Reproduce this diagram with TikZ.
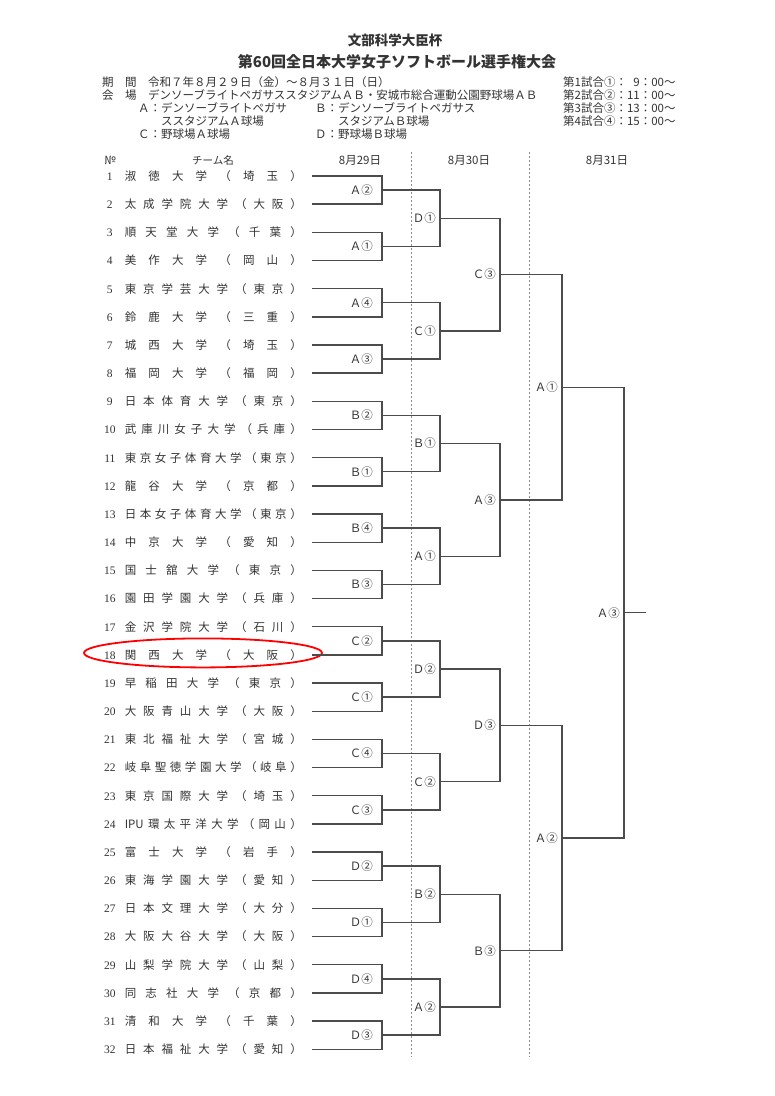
\documentclass[tikz,border=0pt]{standalone}
\usepackage{fontspec}
\setmainfont{Noto Sans CJK JP}
\newfontfamily\numfont{Liberation Serif}
\usetikzlibrary{shapes.geometric}
\definecolor{ink}{gray}{0.2}
\definecolor{rule}{gray}{0.3}

\newcommand{\teamrow}[2]{\makebox[20pt]{\numfont #1}\hspace{5pt}\makebox[177pt][s]{#2}}

\tikzset{
	info/.style={anchor=west, inner sep=0pt, font=\fontsize{11.5}{12}\selectfont},
	colhead/.style={inner sep=0pt, font=\fontsize{11.5}{12}\selectfont},
	team/.style={anchor=east, inner xsep=10pt, inner ysep=1pt, font=\fontsize{11.5}{12}\selectfont},
	game/.style={anchor=east, inner xsep=4pt, inner ysep=1pt, font=\fontsize{11.5}{12}\selectfont},
	first/.style={game, inner xsep=9pt},
	daysep/.style={draw=black!45, line width=0.6pt, dash pattern=on 2pt off 2pt},
	hilite/.style={draw=red, ellipse, line width=1.8pt, minimum width=238pt, minimum height=29pt, inner sep=0pt}
}

\begin{document}
\begin{tikzpicture}[x=1pt, y=-1pt, every node/.style={text=ink}]
		\useasboundingbox (0,0) rectangle (775,1096);
		\fill[white] (0,0) rectangle (775,1096);
		% heading
		\node[font=\bfseries\fontsize{13.5}{14}\selectfont] (cup) at (395,40) {文部科学大臣杯};
		\node[font=\bfseries\fontsize{15}{16}\selectfont] (title) at (397,62) {第60回全日本大学女子ソフトボール選手権大会};
		\node[info] (period) at (102,82) {期　間　令和７年８月２９日（金）～８月３１日（日）};
		\node[info] (venue) at (102,95) {会　場　デンソーブライトペガサススタジアムＡＢ・安城市総合運動公園野球場ＡＢ};
		\node[info] (fa) at (138,108) {Ａ：デンソーブライトペガサ};
		\node[info] (fa2) at (161,121) {ススタジアムＡ球場};
		\node[info] (fb) at (315,108) {Ｂ：デンソーブライトペガサス};
		\node[info] (fb2) at (338,121) {スタジアムＢ球場};
		\node[info] (fc) at (138,134) {Ｃ：野球場Ａ球場};
		\node[info] (fd) at (315,134) {Ｄ：野球場Ｂ球場};
		\node[info] (g1) at (563,82) {第1試合①：\phantom{1}9：00～};
		\node[info] (g2) at (563,95) {第2試合②：11：00～};
		\node[info] (g3) at (563,108) {第3試合③：13：00～};
		\node[info] (g4) at (563,121) {第4試合④：15：00～};
		% column heads
		\node[colhead] (no) at (110,160) {№};
		\node[colhead, font=\fontsize{10.5}{11}\selectfont] (name) at (213,160) {チーム名};
		\node[colhead] (d29) at (360,160) {8月29日};
		\node[colhead] (d30) at (469,160) {8月30日};
		\node[colhead] (d31) at (607,160) {8月31日};
		\draw[daysep] (411,152) -- (411,1057);
		\draw[daysep] (529,152) -- (529,1057);
		
		\begin{scope}[yshift=-147.83pt, y=-28.17pt]
			\node[team] (t1) at (312,1) {\teamrow{1}{淑 徳 大 学 （ 埼 玉 ）}};
			\node[team] (t2) at (312,2) {\teamrow{2}{太 成 学 院 大 学 （ 大 阪 ）}};
			\node[team] (t3) at (312,3) {\teamrow{3}{順 天 堂 大 学 （ 千 葉 ）}};
			\node[team] (t4) at (312,4) {\teamrow{4}{美 作 大 学 （ 岡 山 ）}};
			\node[team] (t5) at (312,5) {\teamrow{5}{東 京 学 芸 大 学 （ 東 京 ）}};
			\node[team] (t6) at (312,6) {\teamrow{6}{鈴 鹿 大 学 （ 三 重 ）}};
			\node[team] (t7) at (312,7) {\teamrow{7}{城 西 大 学 （ 埼 玉 ）}};
			\node[team] (t8) at (312,8) {\teamrow{8}{福 岡 大 学 （ 福 岡 ）}};
			\node[team] (t9) at (312,9) {\teamrow{9}{日 本 体 育 大 学 （ 東 京 ）}};
			\node[team] (t10) at (312,10) {\teamrow{10}{武 庫 川 女 子 大 学 （ 兵 庫 ）}};
			\node[team] (t11) at (312,11) {\teamrow{11}{東 京 女 子 体 育 大 学 （ 東 京 ）}};
			\node[team] (t12) at (312,12) {\teamrow{12}{龍 谷 大 学 （ 京 都 ）}};
			\node[team] (t13) at (312,13) {\teamrow{13}{日 本 女 子 体 育 大 学 （ 東 京 ）}};
			\node[team] (t14) at (312,14) {\teamrow{14}{中 京 大 学 （ 愛 知 ）}};
			\node[team] (t15) at (312,15) {\teamrow{15}{国 士 舘 大 学 （ 東 京 ）}};
			\node[team] (t16) at (312,16) {\teamrow{16}{園 田 学 園 大 学 （ 兵 庫 ）}};
			\node[team] (t17) at (312,17) {\teamrow{17}{金 沢 学 院 大 学 （ 石 川 ）}};
			\node[team] (t18) at (312,18) {\teamrow{18}{関 西 大 学 （ 大 阪 ）}};
			\node[team] (t19) at (312,19) {\teamrow{19}{早 稲 田 大 学 （ 東 京 ）}};
			\node[team] (t20) at (312,20) {\teamrow{20}{大 阪 青 山 大 学 （ 大 阪 ）}};
			\node[team] (t21) at (312,21) {\teamrow{21}{東 北 福 祉 大 学 （ 宮 城 ）}};
			\node[team] (t22) at (312,22) {\teamrow{22}{岐 阜 聖 徳 学 園 大 学 （ 岐 阜 ）}};
			\node[team] (t23) at (312,23) {\teamrow{23}{東 京 国 際 大 学 （ 埼 玉 ）}};
			\node[team] (t24) at (312,24) {\teamrow{24}{IPU 環 太 平 洋 大 学 （ 岡 山 ）}};
			\node[team] (t25) at (312,25) {\teamrow{25}{富 士 大 学 （ 岩 手 ）}};
			\node[team] (t26) at (312,26) {\teamrow{26}{東 海 学 園 大 学 （ 愛 知 ）}};
			\node[team] (t27) at (312,27) {\teamrow{27}{日 本 文 理 大 学 （ 大 分 ）}};
			\node[team] (t28) at (312,28) {\teamrow{28}{大 阪 大 谷 大 学 （ 大 阪 ）}};
			\node[team] (t29) at (312,29) {\teamrow{29}{山 梨 学 院 大 学 （ 山 梨 ）}};
			\node[team] (t30) at (312,30) {\teamrow{30}{同 志 社 大 学 （ 京 都 ）}};
			\node[team] (t31) at (312,31) {\teamrow{31}{清 和 大 学 （ 千 葉 ）}};
			\node[team] (t32) at (312,32) {\teamrow{32}{日 本 福 祉 大 学 （ 愛 知 ）}};
			\node[hilite] (pick) at (203,17.93) {};
			% 8/29
			\node[first] (p1) at (382,1.5) {Ａ②};
			\node[first] (p2) at (382,3.5) {Ａ①};
			\node[first] (p3) at (382,5.5) {Ａ④};
			\node[first] (p4) at (382,7.5) {Ａ③};
			\node[first] (p5) at (382,9.5) {Ｂ②};
			\node[first] (p6) at (382,11.5) {Ｂ①};
			\node[first] (p7) at (382,13.5) {Ｂ④};
			\node[first] (p8) at (382,15.5) {Ｂ③};
			\node[first] (p9) at (382,17.5) {Ｃ②};
			\node[first] (p10) at (382,19.5) {Ｃ①};
			\node[first] (p11) at (382,21.5) {Ｃ④};
			\node[first] (p12) at (382,23.5) {Ｃ③};
			\node[first] (p13) at (382,25.5) {Ｄ②};
			\node[first] (p14) at (382,27.5) {Ｄ①};
			\node[first] (p15) at (382,29.5) {Ｄ④};
			\node[first] (p16) at (382,31.5) {Ｄ③};
			% 8/30
			\node[game] (q1) at (440,2.5) {Ｄ①};
			\node[game] (q2) at (440,6.5) {Ｃ①};
			\node[game] (q3) at (440,10.5) {Ｂ①};
			\node[game] (q4) at (440,14.5) {Ａ①};
			\node[game] (q5) at (440,18.5) {Ｄ②};
			\node[game] (q6) at (440,22.5) {Ｃ②};
			\node[game] (q7) at (440,26.5) {Ｂ②};
			\node[game] (q8) at (440,30.5) {Ａ②};
			\node[game] (h1) at (500,4.5) {Ｃ③};
			\node[game] (h2) at (500,12.5) {Ａ③};
			\node[game] (h3) at (500,20.5) {Ｄ③};
			\node[game] (h4) at (500,28.5) {Ｂ③};
			% 8/31
			\node[game] (s1) at (562,8.5) {Ａ①};
			\node[game] (s2) at (562,24.5) {Ａ②};
			\node[game] (f) at (624,16.5) {Ａ③};
			\coordinate (champ) at (646,16.5);
		\end{scope}
		\begin{scope}[every path/.style={draw=rule, line width=1.4pt}]
			\path (t1.east) -| (p1.east) |- (t2.east);
			\path (t3.east) -| (p2.east) |- (t4.east);
			\path (t5.east) -| (p3.east) |- (t6.east);
			\path (t7.east) -| (p4.east) |- (t8.east);
			\path (t9.east) -| (p5.east) |- (t10.east);
			\path (t11.east) -| (p6.east) |- (t12.east);
			\path (t13.east) -| (p7.east) |- (t14.east);
			\path (t15.east) -| (p8.east) |- (t16.east);
			\path (t17.east) -| (p9.east) |- (t18.east);
			\path (t19.east) -| (p10.east) |- (t20.east);
			\path (t21.east) -| (p11.east) |- (t22.east);
			\path (t23.east) -| (p12.east) |- (t24.east);
			\path (t25.east) -| (p13.east) |- (t26.east);
			\path (t27.east) -| (p14.east) |- (t28.east);
			\path (t29.east) -| (p15.east) |- (t30.east);
			\path (t31.east) -| (p16.east) |- (t32.east);
			\path (p1.east) -| (q1.east) |- (p2.east);
			\path (p3.east) -| (q2.east) |- (p4.east);
			\path (p5.east) -| (q3.east) |- (p6.east);
			\path (p7.east) -| (q4.east) |- (p8.east);
			\path (p9.east) -| (q5.east) |- (p10.east);
			\path (p11.east) -| (q6.east) |- (p12.east);
			\path (p13.east) -| (q7.east) |- (p14.east);
			\path (p15.east) -| (q8.east) |- (p16.east);
			\path (q1.east) -| (h1.east) |- (q2.east);
			\path (q3.east) -| (h2.east) |- (q4.east);
			\path (q5.east) -| (h3.east) |- (q6.east);
			\path (q7.east) -| (h4.east) |- (q8.east);
			\path (h1.east) -| (s1.east) |- (h2.east);
			\path (h3.east) -| (s2.east) |- (h4.east);
			\path (s1.east) -| (f.east) |- (s2.east);
			\path (f.east) -- (champ);
		\end{scope}
	\end{tikzpicture}
\end{document}
